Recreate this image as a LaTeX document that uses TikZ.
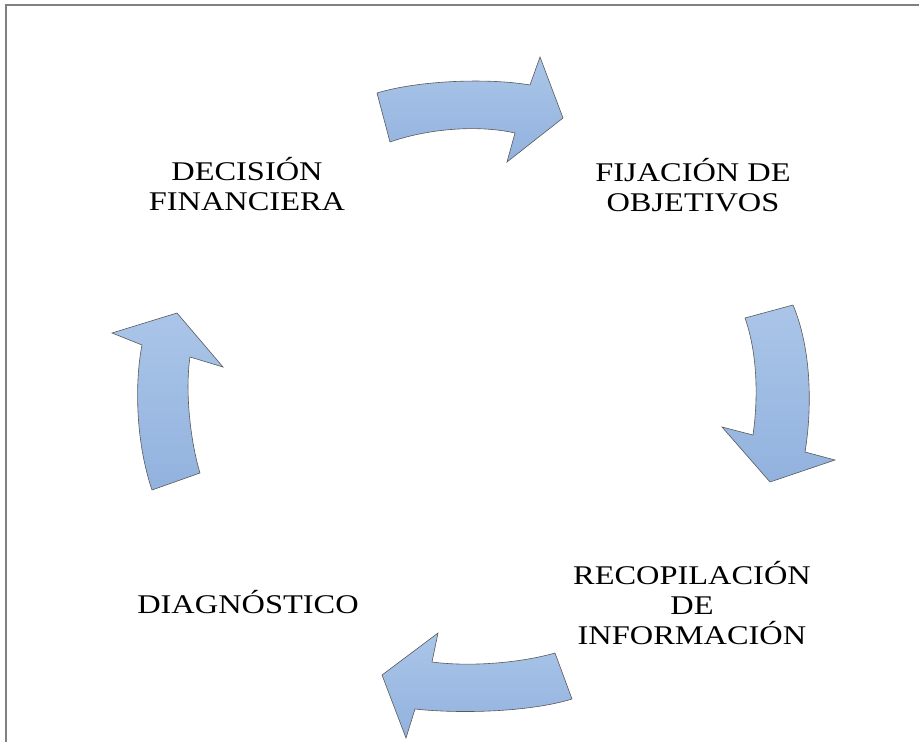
\documentclass[tikz,border=0pt]{standalone}
\usepackage{fontspec}
\setmainfont{Liberation Serif}[FakeStretch=1.2]
\usepackage{tikz}
\usetikzlibrary{arrows, shapes}

\definecolor{arrowtop}{RGB}{170,197,232}
\definecolor{arrowbot}{RGB}{146,178,222}

\begin{document}
\begin{tikzpicture}[x=1pt, y=-1pt]
\tikzstyle{stage} = [align=center, inner sep=0pt, text=black,
    font=\fontsize{27}{30}\selectfont]
\tikzstyle{blockarrow} = [draw=black!65, line width=0.6pt,
    top color=arrowtop, bottom color=arrowbot]
\tikzstyle{frame} = [draw=black!50, line width=1.5pt]

 \useasboundingbox (0,0) rectangle (919,742);
 \path [frame] (6,742) -- (6,5) -- (919,5);

 \node [stage] (decision) at (247,184) {DECISIÓN\\FINANCIERA};
 \node [stage] (fijacion) at (693,185) {FIJACIÓN DE\\OBJETIVOS};
 \node [stage] (recopil) at (692,603) {RECOPILACIÓN\\DE\\INFORMACIÓN};
 \node [stage] (diagnos) at (248,602) {DIAGNÓSTICO};

 % decision -> fijacion
 \path [blockarrow] (377,93) -- (390,142) .. controls (430,128) and (480,125) .. (515,133)
   -- (507,162) -- (563,118) -- (540,57) -- (530,85)
   .. controls (490,78) and (420,80) .. (377,93) -- cycle;
 % fijacion -> recopil
 \path [blockarrow] (745,318) -- (793,305) .. controls (812,350) and (812,410) .. (805,452)
   -- (835,460) -- (770,482) -- (722,427) -- (753,435)
   .. controls (758,400) and (758,355) .. (745,318) -- cycle;
 % recopil -> diagnos
 \path [blockarrow] (555,653) -- (572,699) .. controls (530,712) and (460,714) .. (415,709)
   -- (406,738) -- (382,675) -- (438,633) -- (432,662)
   .. controls (470,667) and (520,663) .. (555,653) -- cycle;
 % diagnos -> decision
 \path [blockarrow] (152,490) -- (200,473) .. controls (190,440) and (185,390) .. (190,357)
   -- (223,367) -- (177,313) -- (112,333) -- (142,345)
   .. controls (135,380) and (135,440) .. (152,490) -- cycle;
\end{tikzpicture}
\end{document}
